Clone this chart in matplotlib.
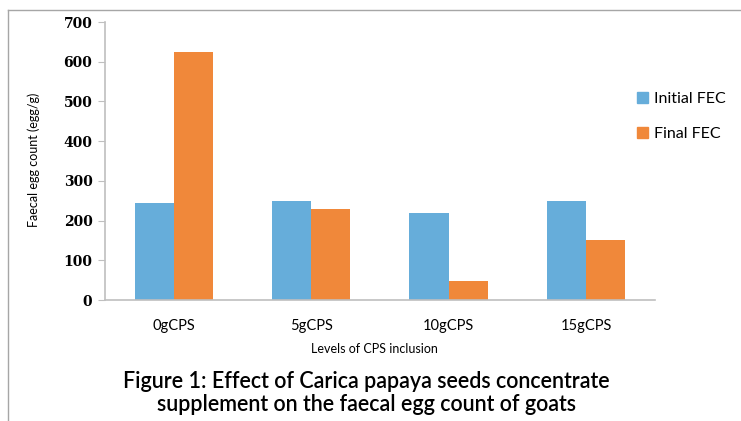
import numpy as np
import matplotlib
matplotlib.use("Agg")
import matplotlib.pyplot as plt
from matplotlib.patches import Patch
from matplotlib.lines import Line2D

categories = ["0gCPS", "5gCPS", "10gCPS", "15gCPS"]
initial_fec = [244, 249, 220, 249]
final_fec = [625, 229, 47, 150]
series_names = ["Initial FEC", "Final FEC"]

blue = "#66ADDA"
orange = "#F0883A"
grey = "#BFBFBF"
sans = ["Lato", "DejaVu Sans"]

fig = plt.figure(figsize=(7.41, 4.21), dpi=100)
ax = fig.add_axes([0.1417, 0.2874, 0.742, 0.6603])

x = np.arange(len(categories))
w = 0.285
ax.bar(x - w / 2, initial_fec, w, color=blue)
ax.bar(x + w / 2, final_fec, w, color=orange)

ax.set_xlim(-0.5, len(categories) - 0.5)
ax.set_ylim(0, 700)
ax.set_yticks(np.arange(0, 701, 100))
ax.set_xticks(x)
ax.set_xticklabels(categories, fontfamily=sans, fontsize=10.5)
for lab in ax.get_yticklabels():
    lab.set_fontfamily("DejaVu Serif")
    lab.set_fontweight("bold")
    lab.set_fontsize(10)

for s in ["top", "right"]:
    ax.spines[s].set_visible(False)
for s in ["left", "bottom"]:
    ax.spines[s].set_color(grey)
    ax.spines[s].set_linewidth(1.2)
ax.tick_params(axis="y", length=5, color=grey, pad=4)
ax.tick_params(axis="x", length=0, pad=14)

fig.text(0.045, 0.62, "Faecal egg count (egg/g)", rotation=90, ha="center", va="center",
         fontfamily=sans, fontsize=9)
fig.text(0.505, 0.172, "Levels of CPS inclusion", ha="center", va="center",
         fontfamily=sans, fontsize=9)
fig.text(0.494, 0.066, "Figure 1: Effect of Carica papaya seeds concentrate\nsupplement on the faecal egg count of goats",
         ha="center", va="center", fontfamily=sans, fontsize=15.5, fontweight="semibold",
         linespacing=1.1)

handles = [Patch(color=blue), Patch(color=orange)]
fig.legend(handles, series_names, loc="upper left", bbox_to_anchor=(0.84, 0.815),
           frameon=False, prop={"family": sans, "size": 11.5}, handlelength=0.7,
           handleheight=0.7, handletextpad=0.4, labelspacing=1.3)

# partial frame around the chart (left and top edges)
fig.add_artist(Line2D([0.011, 0.011], [0, 0.976], color="#A6A6A6", lw=1, transform=fig.transFigure))
fig.add_artist(Line2D([0.011, 1.0], [0.976, 0.976], color="#A6A6A6", lw=1, transform=fig.transFigure))

fig.savefig("out.png", dpi=100)
